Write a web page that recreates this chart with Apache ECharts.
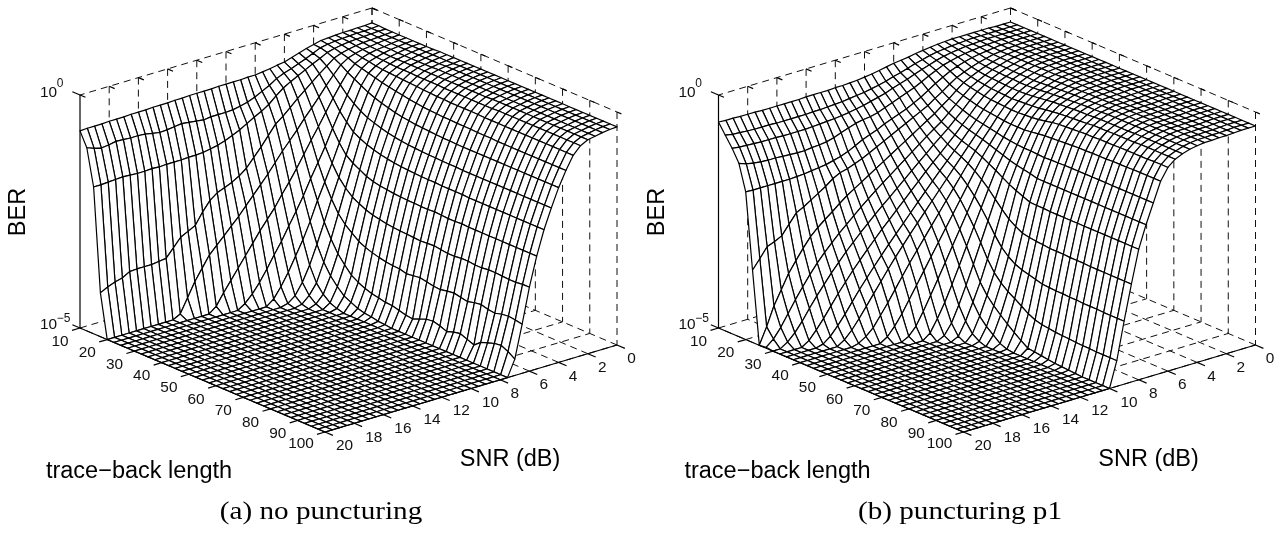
<!DOCTYPE html>
<html>
<head>
<meta charset="utf-8">
<style>html,body{margin:0;padding:0;background:#fff}#c{width:1282px;height:533px}</style>
<script src="https://cdn.jsdelivr.net/npm/echarts@6/dist/echarts.min.js"></script>
</head>
<body>
<div id="c"></div>
<script>
const snrValues=[0,.5,1,1.5,2,2.5,3,3.5,4,4.5,5,5.5,6,6.5,7,7.5,8,8.5,9,9.5,10,10.5,11,11.5,12,12.5,13,13.5,14,14.5,15,15.5,16,16.5,17,17.5,18,18.5,19,19.5,20];
const traceBackValues=[10,12.5,15,17.5,20,22.5,25,27.5,30,32.5,35,37.5,40,42.5,45,47.5,50,52.5,55,57.5,60,62.5,65,67.5,70,72.5,75,77.5,80,82.5,85,87.5,90,92.5,95,97.5,100];
const snrTicks=[0,2,4,6,8,10,12,14,16,18,20];
const traceBackTicks=[10,20,30,40,50,60,70,80,90,100];
const berDecadesMin=-5, berDecadesMax=0;
const captionA="(a) no puncturing", captionB="(b) puncturing p1";
// Values: -100*log10(BER). One row per trace-back length, one column per SNR.
// A row that ends early has dropped under the axis minimum (10^-5) and rests on the floor.
const berA=[
[32,33,33,34,34,35,36,37,41,45,50,55,60,62,65,67,69,69,70,70,70,70,71,71,71,71,72,72,73,73,73,74,74,74,75,75,75,76,76,76,77],
[32,33,34,34,35,36,37,39,42,49,56,62,68,73,80,90,98,106,112,116,119,120,120,120,122,120,118,116,118,120,121,118,115,114,114,113,112,115,117,113,107],
[33,33,34,35,36,37,39,42,46,54,61,69,77,85,94,106,120,130,138,147,156,163,170,175,178,181,182,182,183,183,183,184,183,184,184,183,182,183,184,185,185],
[33,34,35,36,37,39,42,46,52,64,76,89,102,115,130,144,156,176,196,214,232,244,253,260,266,278,298,322,330,338,356,374,376,378,378,378,379,388,392,398,406],
[33,34,35,37,39,41,45,50,60,77,95,115,134,152,172,190,208,228,248,266,284,302,320,336,352,368,384,408,432,462,492,500],
[33,34,36,38,40,43,48,56,70,92,116,142,168,192,218,244,268,290,314,334,354,376,398,420,442,464,488,500],
[33,34,36,38,41,45,50,60,78,108,138,170,204,234,264,296,325,352,380,404,430,454,474,490,500],
[33,34,36,39,42,46,53,64,86,120,155,195,234,270,305,345,380,410,440,466,488,500],
[33,34,36,39,42,47,55,68,94,130,170,215,258,300,345,388,428,460,484,496,500],
[33,34,36,39,42,48,56,72,100,138,178,226,275,325,375,420,460,482,496,500],
[32,34,36,39,42,48,57,75,105,143,185,234,288,342,400,443,478,494,500],
[32,34,36,39,42,48,58,78,109,148,190,242,296,354,418,460,490,500],
[32,34,36,39,42,49,59,80,113,152,194,247,303,366,434,474,496,500],
[32,34,35,38,42,49,60,83,116,155,197,250,308,373,443,481,500],
[32,33,35,38,42,49,61,85,118,157,199,252,311,378,450,488,500],
[32,33,35,38,42,49,62,87,120,159,201,254,314,382,455,492,500],
[32,33,35,38,42,50,63,88,121,160,202,255,316,385,458,494,500],
[32,33,35,38,42,50,63,89,122,161,203,256,317,387,461,497,500],
[32,33,35,38,42,50,64,90,123,162,204,256,318,388,462,498,500],
[32,33,35,38,42,50,64,90,124,162,204,257,319,392,466,500],
[32,33,35,38,42,50,64,91,124,163,204,257,320,390,470,500],
[32,33,35,38,42,50,64,91,125,163,205,256,319,388,472,500],
[32,33,35,38,41,50,64,91,125,163,205,257,318,391,466,500],
[32,33,35,38,41,50,65,92,125,164,205,258,320,394,460,500],
[32,33,35,38,41,49,65,92,125,164,205,258,322,395,458,500],
[32,33,35,38,41,49,65,92,125,164,206,257,322,392,462,500],
[32,33,35,38,41,49,65,93,125,164,206,258,320,390,468,500],
[32,33,35,38,41,49,65,93,125,164,206,258,320,393,463,500],
[32,33,35,38,41,49,65,93,125,164,206,258,322,396,460,500],
[32,33,35,38,41,49,65,93,125,164,206,258,322,392,466,500],
[32,33,35,38,41,49,65,93,125,164,206,258,320,390,472,500],
[32,33,35,38,41,49,65,93,125,164,206,258,320,394,460,500],
[32,33,35,38,41,49,65,93,125,164,206,258,321,396,455,500],
[32,33,35,38,41,49,65,93,125,164,206,258,322,392,450,500],
[32,33,35,38,41,49,65,93,125,164,206,258,322,390,448,500],
[32,33,35,38,41,49,65,93,125,164,206,258,320,392,455,500],
[32,33,35,38,41,49,65,93,125,164,206,258,320,395,465,500]
];
const berB=[
[30,30,30,29,29,29,29,29,29,30,31,33,35,37,40,42,44,47,50,53,55,57,58,59,59,60,60,60,60,61,61,61,61,61,61,60,60,60,59,59,58],
[30,30,30,30,30,30,30,31,32,33,35,37,40,44,48,53,58,62,67,71,74,77,79,81,83,84,85,86,86,87,87,87,87,87,86,86,86,85,84,83,80],
[30,30,30,30,30,30,31,32,33,35,37,40,44,49,54,60,66,71,76,82,86,90,94,97,100,102,104,105,106,107,108,108,108,108,107,107,107,106,105,104,102],
[30,30,30,30,30,31,32,33,35,37,40,44,48,55,62,70,78,84,90,96,102,108,112,114,117,122,128,134,138,140,141,143,143,142,141,140,140,139,137,134,128],
[30,30,30,30,31,31,33,35,37,40,44,49,55,63,72,82,92,100,108,114,120,126,134,140,146,154,162,168,172,176,178,180,182,183,184,184,184,184,184,184,183],
[30,30,30,30,31,32,34,36,40,44,49,55,62,72,83,93,104,112,120,128,136,144,152,160,168,176,182,188,192,200,212,222,232,242,250,270,290,298,304,325,345],
[30,30,30,30,31,32,34,37,41,46,52,59,67,79,92,103,115,125,135,145,155,165,175,185,195,205,215,225,235,247,260,272,285,300,320,342,365,395,425,465,500],
[30,30,30,30,31,32,34,37,42,47,54,62,71,84,98,112,126,137,148,160,172,184,196,208,220,232,245,258,272,286,300,316,332,350,370,392,415,440,465,485,498],
[30,30,30,30,31,32,34,38,42,48,55,64,74,88,104,119,134,147,160,174,188,202,216,230,244,258,272,287,302,318,334,352,370,390,410,432,455,475,490,500],
[30,30,30,30,31,32,34,38,43,49,56,66,77,92,109,125,142,157,172,187,202,218,234,250,266,282,298,315,332,350,368,388,408,430,452,472,490,500],
[30,30,30,30,31,32,34,38,43,49,57,67,79,95,113,130,148,165,182,199,216,234,252,270,288,306,324,343,362,382,402,424,446,466,484,496,500],
[30,30,30,30,31,32,34,38,43,50,58,68,80,97,116,134,153,172,191,210,229,248,267,286,305,325,345,366,388,410,432,454,474,490,500],
[30,30,30,30,31,32,34,38,44,50,58,69,81,99,119,138,158,180,202,224,246,268,290,312,334,356,380,404,428,450,472,486,496,500],
[30,30,30,30,31,32,34,37,43,49,57,68,82,101,122,143,165,190,216,242,268,294,320,346,372,398,424,450,472,490,500],
[30,30,30,30,31,32,33,37,42,48,56,67,82,102,125,148,173,202,233,264,295,326,357,388,418,448,475,492,500],
[30,30,30,30,31,32,33,36,41,46,54,66,81,102,127,153,181,216,252,288,325,362,398,432,462,488,500],
[30,30,30,30,31,32,33,36,40,45,52,65,80,102,129,158,190,232,274,316,358,398,436,470,492,500],
[30,30,30,30,31,32,33,35,39,44,50,62,78,100,130,162,199,248,298,345,390,428,464,492,500],
[30,30,30,30,31,32,33,35,38,43,49,60,75,98,130,165,206,262,318,368,412,452,485,500],
[30,30,30,30,31,32,33,34,38,42,48,58,72,96,131,168,212,272,332,384,428,468,495,500],
[30,30,30,30,31,32,33,34,37,41,47,57,70,95,132,172,218,280,342,396,442,480,500],
[30,30,30,30,31,32,33,34,37,40,46,56,69,94,131,172,219,283,348,405,455,492,500],
[30,30,30,31,31,32,33,34,36,40,46,55,68,93,131,172,219,285,352,415,467,498,500],
[30,30,30,31,32,32,33,33,36,39,45,54,67,92,130,172,220,286,356,425,478,500],
[30,30,30,31,32,32,33,33,35,38,44,52,66,91,130,172,220,288,360,432,488,500],
[30,30,30,31,32,32,33,33,35,38,44,52,66,91,130,172,220,288,361,436,490,500],
[30,30,30,31,32,32,33,33,35,38,44,52,65,90,130,172,220,288,362,438,492,500],
[30,30,30,31,32,32,33,33,35,38,44,51,65,90,130,172,220,289,362,440,494,500],
[30,30,30,31,32,32,33,33,35,38,44,51,65,90,130,172,220,289,363,441,496,500],
[30,30,30,31,32,32,33,33,35,38,43,51,64,89,130,172,220,289,363,442,497,500],
[30,30,30,31,32,32,33,33,35,38,43,51,64,89,130,172,220,290,364,443,498,500],
[30,30,30,31,32,32,33,33,35,38,43,50,64,89,130,172,220,290,364,444,499,500],
[30,30,30,31,32,32,33,33,35,38,43,50,64,88,130,172,220,290,364,444,500],
[30,30,30,31,32,32,33,33,35,38,43,50,64,88,130,172,220,290,365,445,500],
[30,30,30,31,32,32,33,33,35,38,43,50,63,88,130,172,220,290,365,445,500],
[30,30,30,31,32,32,33,33,35,38,43,50,63,88,130,172,220,290,365,445,500],
[30,30,30,31,32,32,33,33,35,38,43,50,63,88,130,172,220,290,365,445,500]
];

const PANEL_B_SHIFT=638.5;
function project(snr,tb,dec,shift){
  const u=snr/20, v=(tb-10)/90, w=(dec-berDecadesMin)/(berDecadesMax-berDecadesMin);
  return [shift+372-292*u+245*v, 241+87*u+104*v-233*w];
}
function zOf(table,j,i){
  const row=table[j];
  const val=i<row.length?row[i]:500;
  return Math.max(-val/100,berDecadesMin);
}
function surfaceQuads(table,shift){
  const q=[];
  for(let i=0;i<snrValues.length-1;i++){
    for(let j=0;j<traceBackValues.length-1;j++){
      const a=project(snrValues[i],traceBackValues[j],zOf(table,j,i),shift);
      const b=project(snrValues[i],traceBackValues[j+1],zOf(table,j+1,i),shift);
      const c=project(snrValues[i+1],traceBackValues[j+1],zOf(table,j+1,i+1),shift);
      const d=project(snrValues[i+1],traceBackValues[j],zOf(table,j,i+1),shift);
      q.push([...a,...b,...c,...d]);
    }
  }
  return q;
}
function seg(p,q){return [p[0],p[1],q[0],q[1]];}
function dashedLines(shift){
  const L=[], P=(s,t,z)=>project(s,t,z,shift);
  L.push(seg(P(0,10,0),P(20,10,0)));
  L.push(seg(P(0,10,0),P(0,100,0)));
  snrTicks.forEach(s=>{
    if(s!==20) L.push(seg(P(s,10,0),P(s,10,-5)));
    L.push(seg(P(s,100,-5),P(s,10,-5)));
  });
  traceBackTicks.forEach(t=>{
    L.push(seg(P(0,t,0),P(0,t,-5)));
    L.push(seg(P(20,t,-5),P(0,t,-5)));
  });
  return L;
}
function solidLines(shift){
  const L=[], P=(s,t,z)=>project(s,t,z,shift);
  L.push(seg(P(20,10,-5),P(20,10,0)));
  L.push(seg(P(20,10,-5),P(20,100,-5)));
  L.push(seg(P(20,100,-5),P(0,100,-5)));
  L.push(seg(P(20,10,0),P(20,7.2,0)));
  L.push(seg(P(20,10,-5),P(20,7.2,-5)));
  traceBackTicks.forEach(t=>L.push(seg(P(20,t,-5),P(20.55,t,-5))));
  snrTicks.forEach(s=>{
    L.push(seg(P(s,100,-5),P(s,102.9,-5)));
    L.push(seg(P(s,10,0),P(s,12,0)));
  });
  traceBackTicks.forEach(t=>L.push(seg(P(0,t,0),P(0,t+1.6,0))));
  return L;
}
function labelItems(shift){
  const out=[];
  traceBackTicks.forEach(t=>{
    const p=project(20,t,-5,shift);
    out.push([p[0]+(t===100?-24:-20),p[1]+(t===100?12:13.5),String(t),15.4]);
  });
  snrTicks.forEach(s=>{
    const p=project(s,100,-5,shift);
    out.push([p[0]+(s<10?14.5:19.5),p[1]+14,String(s),15.4]);
  });
  const top=project(20,10,0,shift), bot=project(20,10,-5,shift);
  out.push([top[0]-31.5,top[1]-2,"10",15.4]);
  out.push([top[0]-20,top[1]-11,"0",12]);
  out.push([bot[0]-31.5,bot[1]-3,"10",15.4]);
  out.push([bot[0]-16.5,bot[1]-9,"\u22125",12]);
  return out;
}
const lineSeries=(data,dash,z)=>({
  type:'custom',coordinateSystem:'cartesian2d',silent:true,z,progressive:0,animation:false,clip:false,
  data,
  renderItem:(p,api)=>{
    const a=api.coord([api.value(0),api.value(1)]), b=api.coord([api.value(2),api.value(3)]);
    return {type:'line',shape:{x1:a[0],y1:a[1],x2:b[0],y2:b[1]},
      style:{stroke:dash?'#111':'#000',lineWidth:dash?1:1.2,lineDash:dash?[7,5]:null,fill:null}};
  }
});
const surfaceSeries=(data,z)=>({
  type:'custom',coordinateSystem:'cartesian2d',silent:true,z,progressive:0,animation:false,clip:false,
  data,
  renderItem:(p,api)=>{
    const pts=[];
    for(let k=0;k<4;k++) pts.push(api.coord([api.value(2*k),api.value(2*k+1)]));
    return {type:'polygon',shape:{points:pts},style:{fill:'#fff',stroke:'#000',lineWidth:1.2,lineJoin:'round'}};
  }
});
const textSeries=(data,z)=>({
  type:'custom',coordinateSystem:'cartesian2d',silent:true,z,progressive:0,animation:false,clip:false,
  data:data.map(d=>[d[0],d[1]]),
  renderItem:(p,api)=>{
    const c=api.coord([api.value(0),api.value(1)]), d=data[p.dataIndex];
    return {type:'text',x:c[0],y:c[1],style:{text:d[2],fontFamily:'Liberation Sans',fontSize:d[3],fill:'#111',align:'center',verticalAlign:'middle'}};
  }
});
function axisNames(shift){
  const font={fontFamily:'Liberation Sans',fontSize:23.5,fill:'#000',align:'center',verticalAlign:'middle'};
  return [
    {type:'text',x:shift+19,y:212,rotation:Math.PI/2,style:{...font,text:'BER'}},
    {type:'text',x:shift+139,y:472,style:{...font,text:'trace\u2212back length'}},
    {type:'text',x:shift+510,y:460,style:{...font,text:'SNR (dB)'}}
  ];
}
const chart=echarts.init(document.getElementById('c'),null,{renderer:'canvas'});
const captionFont={fontFamily:'Liberation Serif',fontSize:24.5,fill:'#000',align:'center',verticalAlign:'middle'};
chart.setOption({
  animation:false,
  backgroundColor:'#fff',
  grid:{left:0,right:0,top:0,bottom:0},
  xAxis:{type:'value',min:0,max:1282,show:false},
  yAxis:{type:'value',min:0,max:533,inverse:true,show:false},
  series:[
    lineSeries(dashedLines(0),true,1),
    lineSeries(dashedLines(PANEL_B_SHIFT),true,1),
    surfaceSeries(surfaceQuads(berA,0),2),
    surfaceSeries(surfaceQuads(berB,PANEL_B_SHIFT),2),
    lineSeries(solidLines(0),false,3),
    lineSeries(solidLines(PANEL_B_SHIFT),false,3),
    textSeries(labelItems(0),4),
    textSeries(labelItems(PANEL_B_SHIFT),4)
  ],
  graphic:{elements:[
    ...axisNames(0),...axisNames(PANEL_B_SHIFT),
    {type:'text',x:321,y:513,scaleX:1.19,style:{...captionFont,text:captionA}},
    {type:'text',x:960,y:513,scaleX:1.19,style:{...captionFont,text:captionB}}
  ]}
});
</script>
</body>
</html>
